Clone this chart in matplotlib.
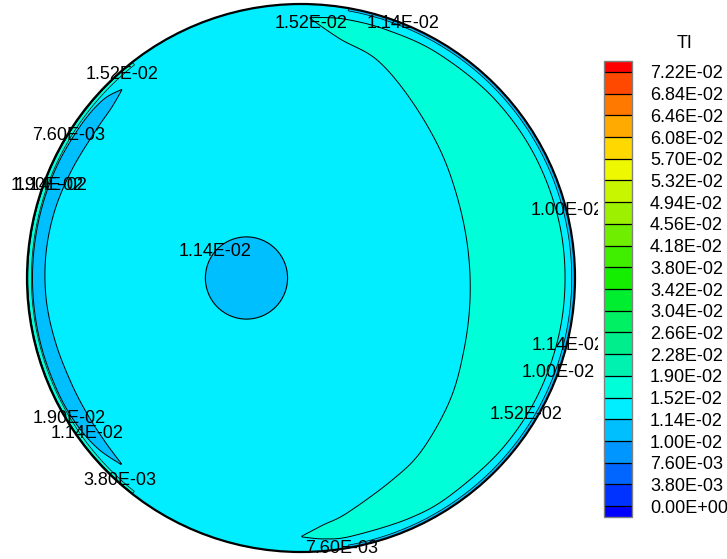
"""Turbulence intensity (TI) contour on a circular cross-section."""

import matplotlib

matplotlib.use("Agg")
import matplotlib.pyplot as plt
import numpy as np
from matplotlib.cm import ScalarMappable
from matplotlib.colors import BoundaryNorm, ListedColormap
from matplotlib.patches import Circle, Polygon

plt.rcParams["font.family"] = ["Liberation Sans", "DejaVu Sans"]

# contour levels and band colours (bottom to top), as in the legend
LEVELS = [0.0, 3.8e-3, 7.6e-3, 1.00e-2, 1.14e-2, 1.52e-2, 1.90e-2, 2.28e-2,
          2.66e-2, 3.04e-2, 3.42e-2, 3.80e-2, 4.18e-2, 4.56e-2, 4.94e-2,
          5.32e-2, 5.70e-2, 6.08e-2, 6.46e-2, 6.84e-2, 7.22e-2]
BAND_COLORS = ["#0033FF", "#0066FF", "#0096FF", "#00BFFF", "#00EEFF",
               "#00FFD8", "#00F2B0", "#00EE8C", "#00F064", "#00EE30",
               "#14EE00", "#40EE00", "#70EE00", "#9CF000", "#C8F500",
               "#EEF800", "#FFD800", "#FFAA00", "#FF7800", "#FF4800"]
UNDER_COLOR = "#0000FF"
OVER_COLOR = "#FF0000"

# TI values of the regions on the section
DISK_TI = 0.0130
CRESCENT_TI = 0.0170
SLIVER_TI = 0.0107
HOLE_TI = 0.0107
RIGHT_RIM_TI = 0.0107
LEFT_RIM_TI = 0.0170

# geometry (section radius = 1), boundaries as angle (deg) / radius pairs
HOLE_CENTER = (-0.199, 0.0)
HOLE_RADIUS = 0.150

CRESCENT_THETA = [-89.8, -84.9, -78.9, -65.7, -54.9, -39.3, -23.8, -7.4,
                  9.5, 26.4, 42.6, 58.5, 70.8, 80.7, 88.0]
CRESCENT_R_IN = [0.942, 0.905, 0.874, 0.809, 0.768, 0.703, 0.650, 0.622,
                 0.618, 0.640, 0.690, 0.765, 0.843, 0.884, 0.948]
CRESCENT_R_OUT = [0.945, 0.956, 0.960, 0.962, 0.962, 0.963, 0.964, 0.964,
                  0.964, 0.963, 0.962, 0.960, 0.958, 0.958, 0.951]

SLIVER_THETA = [133.6, 138.0, 145.0, 155.0, 165.0, 175.0, 185.0, 195.0,
                205.0, 213.0, 220.0, 226.0]
SLIVER_R_IN = [0.948, 0.930, 0.922, 0.925, 0.932, 0.935, 0.933, 0.926,
               0.922, 0.925, 0.932, 0.943]
SLIVER_R_OUT = [0.950, 0.972, 0.978, 0.980, 0.980, 0.980, 0.980, 0.980,
                0.980, 0.978, 0.968, 0.946]

RIGHT_RIM_THETA = [-80.0, -40.0, 0.0, 40.0, 80.0]
RIGHT_RIM_R_IN = [0.990, 0.989, 0.988, 0.989, 0.990]
RIGHT_RIM_R_OUT = [1.0, 1.0, 1.0, 1.0, 1.0]
LEFT_RIM_THETA = [128.0, 155.0, 180.0, 205.0, 232.0]
LEFT_RIM_R_IN = [0.987, 0.985, 0.984, 0.985, 0.988]
LEFT_RIM_R_OUT = [0.997, 0.997, 0.997, 0.997, 0.997]

# contour labels
LABEL_TEXT = ["1.52E-02", "1.14E-02", "1.52E-02", "7.60E-03", "1.90E-02",
              "1.14E-02", "1.14E-02", "1.00E-02", "1.14E-02", "1.00E-02",
              "1.52E-02", "1.90E-02", "1.14E-02", "3.80E-03", "7.60E-03"]
LABEL_X = [0.038, 0.372, -0.653, -0.847, -0.925, -0.914, -0.312, 0.973,
           0.973, 0.940, 0.823, -0.845, -0.781, -0.662, 0.150]
LABEL_Y = [0.928, 0.928, 0.742, 0.519, 0.336, 0.336, 0.0955, 0.245,
           -0.248, -0.346, -0.499, -0.512, -0.569, -0.740, -0.988]

FONT_SIZE = 13

cmap = ListedColormap(BAND_COLORS)
cmap.set_under(UNDER_COLOR)
cmap.set_over(OVER_COLOR)
norm = BoundaryNorm(LEVELS, cmap.N)


def catmull_rom(pts, steps=24):
    pts = np.vstack([pts[0], pts, pts[-1]])
    s = np.linspace(0, 1, steps, endpoint=False)[:, None]
    out = []
    for i in range(1, len(pts) - 2):
        p0, p1, p2, p3 = pts[i - 1], pts[i], pts[i + 1], pts[i + 2]
        out.append(0.5 * (2 * p1 + (p2 - p0) * s
                          + (2 * p0 - 5 * p1 + 4 * p2 - p3) * s ** 2
                          + (3 * p1 - p0 - 3 * p2 + p3) * s ** 3))
    out.append(pts[-2][None])
    return np.vstack(out)


def smooth_boundary(theta, r, polar=False):
    # smooth curve through the read boundary points
    theta = np.asarray(theta, dtype=float)
    r = np.asarray(r, dtype=float)
    if polar:
        tr = catmull_rom(np.column_stack([theta, r]))
        t = np.deg2rad(tr[:, 0])
        return np.column_stack([tr[:, 1] * np.cos(t), tr[:, 1] * np.sin(t)])
    t = np.deg2rad(theta)
    return catmull_rom(np.column_stack([r * np.cos(t), r * np.sin(t)]))


def band_polygon(theta, r_in, r_out, value, lw=0.7, polar=False):
    outer = smooth_boundary(theta, r_out, polar)
    inner = smooth_boundary(theta, r_in, polar)[::-1]
    return Polygon(np.vstack([outer, inner]), closed=True,
                   facecolor=cmap(norm(value)), edgecolor="black",
                   linewidth=lw, zorder=3)


W, H = 727, 559
fig = plt.figure(figsize=(W / 100, H / 100), dpi=100)
ax = fig.add_axes([0, 0, 598 / W, 1])
ax.set_xlim(-301 / 274, 297 / 274)
ax.set_ylim(-281 / 274, 278 / 274)
ax.axis("off")

ax.add_patch(Circle((0, 0), 1.0, facecolor=cmap(norm(DISK_TI)),
                    edgecolor="none", zorder=1))
ax.add_patch(band_polygon(CRESCENT_THETA, CRESCENT_R_IN, CRESCENT_R_OUT, CRESCENT_TI))
ax.add_patch(band_polygon(SLIVER_THETA, SLIVER_R_IN, SLIVER_R_OUT, SLIVER_TI))
ax.add_patch(band_polygon(RIGHT_RIM_THETA, RIGHT_RIM_R_IN, RIGHT_RIM_R_OUT,
                          RIGHT_RIM_TI, lw=0.5, polar=True))
ax.add_patch(band_polygon(LEFT_RIM_THETA, LEFT_RIM_R_IN, LEFT_RIM_R_OUT,
                          LEFT_RIM_TI, lw=0.5, polar=True))
ax.add_patch(Circle(HOLE_CENTER, HOLE_RADIUS, facecolor=cmap(norm(HOLE_TI)),
                    edgecolor="black", linewidth=0.8, zorder=3))
ax.add_patch(Circle((0, 0), 1.0, facecolor="none", edgecolor="black",
                    linewidth=1.6, zorder=4))

for txt, x, y in zip(LABEL_TEXT, LABEL_X, LABEL_Y):
    ax.text(x, y, txt, fontsize=FONT_SIZE, ha="center", va="center",
            color="black", zorder=5, clip_on=True)

# legend bar
cax = fig.add_axes([604 / W, 1 - 517 / H, 28 / W, 456 / H])
sm = ScalarMappable(norm=norm, cmap=cmap)
cbar = fig.colorbar(sm, cax=cax, extend="both", extendrect=True,
                    extendfrac=0.025, drawedges=True, ticks=LEVELS,
                    spacing="uniform")
cbar.ax.set_yticklabels([f"{v:.2E}" for v in LEVELS])
cbar.ax.tick_params(length=0, pad=13, labelsize=FONT_SIZE)
for lab in cbar.ax.get_yticklabels():
    lab.set_va("center_baseline")
cbar.outline.set_edgecolor("#808080")
cbar.outline.set_linewidth(1.0)
cbar.dividers.set_color("black")
cbar.dividers.set_linewidth(0.9)
fig.text(685 / W, 1 - 43 / H, "TI", fontsize=FONT_SIZE, ha="center", va="center")

fig.savefig("out.png", dpi=100, facecolor="white")
